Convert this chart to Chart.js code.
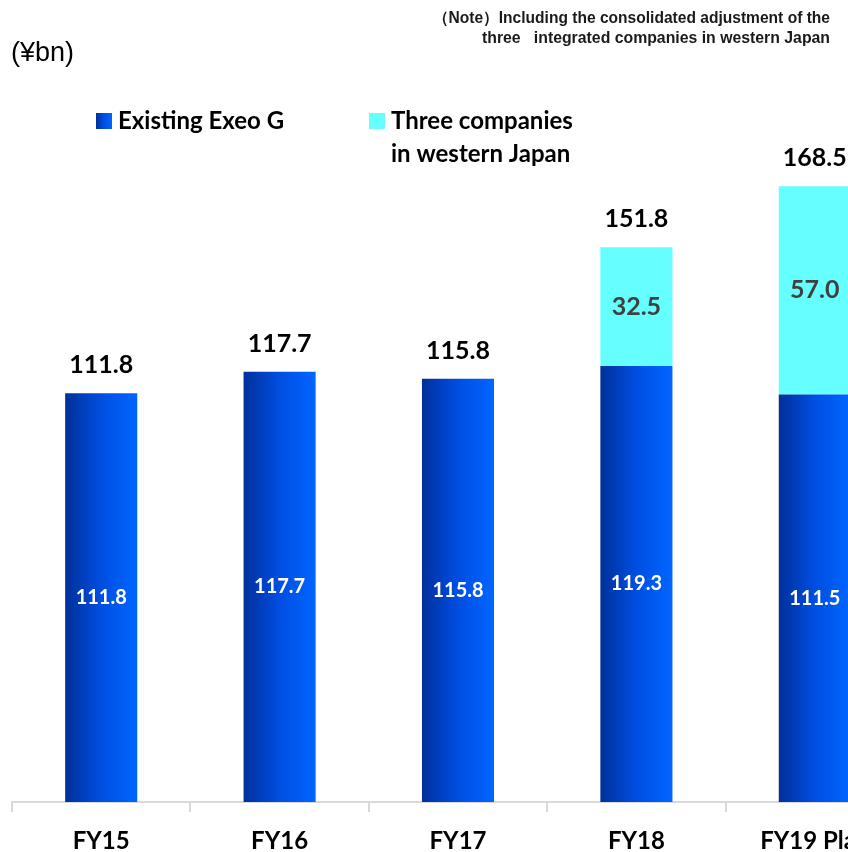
<!DOCTYPE html>
<html>
<head>
<meta charset="utf-8">
<script src="https://cdn.jsdelivr.net/npm/chart.js@4"></script>
<style>
  html, body { margin: 0; padding: 0; background: #fff; overflow: hidden; }
  #wrap { width: 904px; height: 852px; }
</style>
</head>
<body>
<div id="wrap"><canvas id="salesChart" width="904" height="852"></canvas></div>
<script>
// orders received, ¥bn
const categories = ['FY15', 'FY16', 'FY17', 'FY18', 'FY19 Plan'];
const existingExeo = [111.8, 117.7, 115.8, 119.3, 111.5];
const westernThree = [null, null, null, 32.5, 57.0];

const BAR_PCT = 0.404;
const LABEL_FONT = 'Lato, "Open Sans", sans-serif';

// horizontal dark-to-bright blue fill, one gradient per bar
function blueGradient(c, x0, x1) {
  const g = c.createLinearGradient(x0, 0, x1, 0);
  g.addColorStop(0, '#00309a');
  g.addColorStop(0.5, '#004ee2');
  g.addColorStop(1, '#0066ff');
  return g;
}

function barFill(ctx) {
  const chart = ctx.chart;
  const xs = chart.scales.x;
  if (!chart.chartArea || !xs) return '#0050e6';
  const cx = xs.getPixelForValue(ctx.dataIndex);
  const half = xs.width / categories.length * BAR_PCT / 2;
  return blueGradient(chart.ctx, cx - half, cx + half);
}

// value labels inside segments and totals above the stacks
const valueLabels = {
  id: 'valueLabels',
  afterDatasetsDraw(chart) {
    const c = chart.ctx;
    c.save();
    c.textAlign = 'center';
    c.textBaseline = 'middle';
    const tops = [];
    chart.data.datasets.forEach((ds, di) => {
      const meta = chart.getDatasetMeta(di);
      meta.data.forEach((bar, i) => {
        const v = ds.data[i];
        if (v == null) return;
        tops[i] = tops[i] == null ? bar.y : Math.min(tops[i], bar.y);
        const mid = (bar.y + bar.base) / 2;
        if (di === 0) {
          c.fillStyle = '#ffffff';
          c.font = 'bold 20px ' + LABEL_FONT;
        } else {
          c.fillStyle = '#404040';
          c.font = 'bold 25px ' + LABEL_FONT;
        }
        c.fillText(v.toFixed(1), bar.x, mid);
      });
    });
    c.fillStyle = '#000000';
    c.font = 'bold 25px ' + LABEL_FONT;
    const xs = chart.scales.x;
    categories.forEach((cat, i) => {
      const total = existingExeo[i] + (westernThree[i] || 0);
      c.fillText(total.toFixed(1), xs.getPixelForValue(i), tops[i] - 28);
    });
    c.restore();
  }
};

// unit, note and legend
const headerText = {
  id: 'headerText',
  afterDraw(chart) {
    const c = chart.ctx;
    c.save();
    c.textBaseline = 'middle';

    c.fillStyle = '#000';
    c.textAlign = 'left';
    c.font = '27px "Liberation Sans", Arial, sans-serif';
    c.fillText('(¥bn)', 11, 54);

    c.textAlign = 'right';
    c.font = 'bold 16px "Liberation Sans", Arial, sans-serif';
    c.fillStyle = '#1a1a1a';
    c.fillText('（Note）Including the consolidated adjustment of the', 830, 19, 397);
    c.fillText('three   integrated companies in western Japan', 830, 39, 348);

    c.fillStyle = blueGradient(c, 96, 112);
    c.fillRect(96, 113, 16, 16);
    c.fillStyle = '#66ffff';
    c.fillRect(369, 113, 16, 16);

    c.textAlign = 'left';
    c.fillStyle = '#000';
    c.font = 'bold 24px ' + LABEL_FONT;
    c.fillText('Existing Exeo G', 118, 121);
    c.fillText('Three companies', 391, 121);
    c.fillText('in western Japan', 391, 154);
    c.restore();
  }
};

new Chart(document.getElementById('salesChart'), {
  type: 'bar',
  data: {
    labels: categories,
    datasets: [
      {
        label: 'Existing Exeo G',
        data: existingExeo,
        backgroundColor: barFill,
        barPercentage: BAR_PCT,
        categoryPercentage: 1
      },
      {
        label: 'Three companies in western Japan',
        data: westernThree,
        backgroundColor: '#66ffff',
        barPercentage: BAR_PCT,
        categoryPercentage: 1
      }
    ]
  },
  options: {
    responsive: false,
    animation: false,
    events: [],
    layout: { padding: { top: 71, left: 12, right: 0, bottom: -18 } },
    plugins: {
      legend: { display: false },
      tooltip: { enabled: false }
    },
    scales: {
      x: {
        stacked: true,
        grid: {
          drawOnChartArea: false,
          color: '#d9d9d9',
          lineWidth: 2,
          tickLength: 10
        },
        border: { color: '#d9d9d9', width: 2 },
        ticks: {
          color: '#000',
          padding: 17,
          font: { family: LABEL_FONT, size: 24, weight: 'bold', lineHeight: 1 }
        }
      },
      y: {
        stacked: true,
        display: false,
        min: 0,
        max: 200
      }
    }
  },
  plugins: [valueLabels, headerText]
});
</script>
</body>
</html>
